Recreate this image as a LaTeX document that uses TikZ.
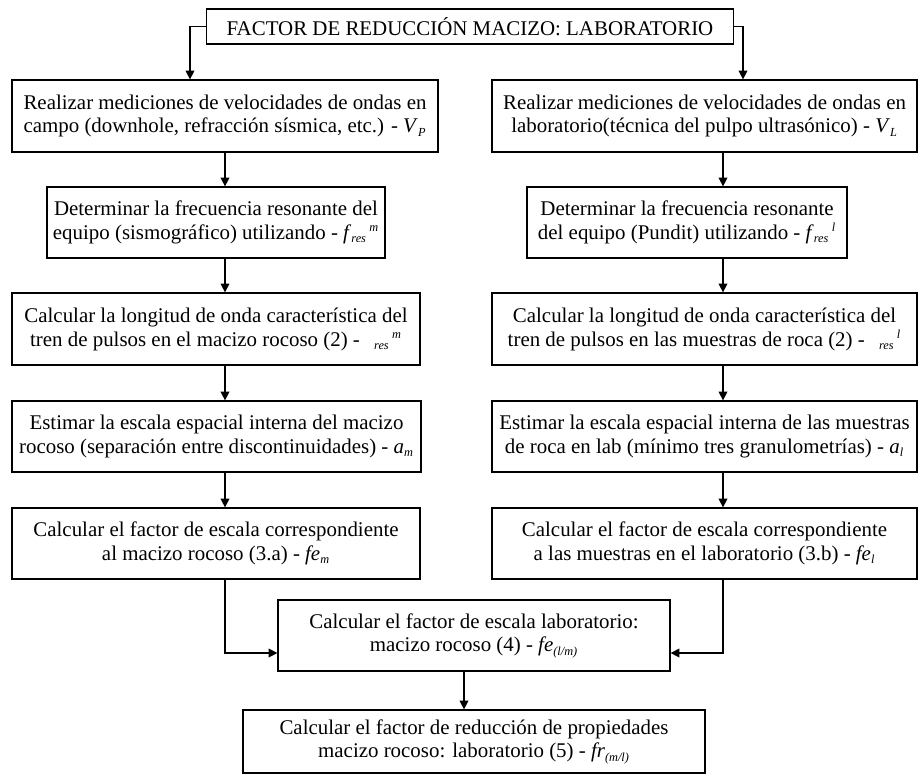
\documentclass[tikz,border=0pt]{standalone}
\usepackage{fontspec}
\setmainfont{Liberation Serif}
\usepackage{tikz}
\usetikzlibrary{arrows.meta, positioning, calc}
\newcommand{\vsub}[2]{\textit{#1}\textsubscript{\textit{\scriptsize #2}}}
\newcommand{\fres}[1]{\textit{f}\textsubscript{\textit{\scriptsize res}}\textsuperscript{\,\textit{\scriptsize #1}}}
\newcommand{\lres}[1]{\phantom{\textit{λ}}\textsubscript{\textit{\scriptsize res}}\textsuperscript{\,\textit{\scriptsize #1}}}

\begin{document}
\begin{tikzpicture}[
    x=0.02cm, y=-0.02cm,
    box/.style={draw, line width=0.7pt, align=center, inner sep=0pt,
                font=\fontsize{11.9}{13.6}\selectfont},
    arrow/.style={-{Triangle[length=5pt, width=5pt]}, line width=0.7pt},
  ]
    \useasboundingbox (0,0) rectangle (919,778);

    % Title
    \node[box, minimum width=527*0.02cm, minimum height=35*0.02cm] (title) at (470,26.5)
      {FACTOR DE REDUCCIÓN MACIZO: LABORATORIO};

    % Column: macizo rocoso (left)
    \node[box, minimum width=426*0.02cm, minimum height=72*0.02cm] (m1) at (225,116) {
      Realizar mediciones de velocidades de ondas en\\
      campo (downhole, refracción sísmica, etc.) - \vsub{V}{P}};
    \node[box, minimum width=338*0.02cm, minimum height=71*0.02cm] (m2) at (216,222.5) {
      Determinar la frecuencia resonante del\\
      equipo (sismográfico) utilizando - \fres{m}};
    \node[box, minimum width=408*0.02cm, minimum height=72*0.02cm] (m3) at (216,329) {
      Calcular la longitud de onda característica del\\
      tren de pulsos en el macizo rocoso (2) - \lres{m}};
    \node[box, minimum width=409*0.02cm, minimum height=71*0.02cm] (m4) at (216.5,436.5) {
      Estimar la escala espacial interna del macizo\\
      rocoso (separación entre discontinuidades) - \vsub{a}{m}};
    \node[box, minimum width=408*0.02cm, minimum height=71*0.02cm] (m5) at (216,543.5) {
      Calcular el factor de escala correspondiente\\
      al macizo rocoso (3.a) - \vsub{fe}{m}};

    % Column: laboratorio (right)
    \node[box, minimum width=425*0.02cm, minimum height=72*0.02cm] (l1) at (704.5,116) {
      Realizar mediciones de velocidades de ondas en\\
      laboratorio(técnica del pulpo ultrasónico) - \vsub{V}{L}};
    \node[box, minimum width=320*0.02cm, minimum height=71*0.02cm] (l2) at (687,222.5) {
      Determinar la frecuencia resonante\\
      del equipo (Pundit) utilizando - \fres{l}};
    \node[box, minimum width=425*0.02cm, minimum height=72*0.02cm] (l3) at (704.5,329) {
      Calcular la longitud de onda característica del\\
      tren de pulsos en las muestras de roca (2) - \lres{l}};
    \node[box, minimum width=425*0.02cm, minimum height=71*0.02cm] (l4) at (704.5,436.5) {
      Estimar la escala espacial interna de las muestras\\
      de roca en lab (mínimo tres granulometrías) - \vsub{a}{l}};
    \node[box, minimum width=425*0.02cm, minimum height=71*0.02cm] (l5) at (704.5,543.5) {
      Calcular el factor de escala correspondiente\\
      a las muestras en el laboratorio (3.b) - \vsub{fe}{l}};

    % Merge and result
    \node[box, minimum width=392*0.02cm, minimum height=71*0.02cm] (esc) at (474,635.5) {
      Calcular el factor de escala laboratorio:\\
      macizo rocoso (4) - \vsub{fe}{(l/m)}};
    \node[box, minimum width=462*0.02cm, minimum height=63*0.02cm] (red) at (474,741.5) {
      Calcular el factor de reducción de propiedades\\
      macizo rocoso: laboratorio (5) - \vsub{fr}{(m/l)}};

    % column axes
    \coordinate (lcol) at (225,0);
    \coordinate (rcol) at (723,0);

    % Arrows
    \draw[arrow] (title.west) -| ($(m1.north)+(-35,0)$);
    \draw[arrow] (title.east) -| ($(l1.north)+(38.5,0)$);
    \foreach \i/\j in {1/2, 2/3, 3/4, 4/5} {
      \draw[arrow] (m\i.south -| lcol) -- (lcol |- m\j.north);
      \draw[arrow] (l\i.south -| rcol) -- (rcol |- l\j.north);
    }
    \draw[arrow] (m5.south -| lcol) |- ($(esc.west)+(0,17.5)$);
    \draw[arrow] (l5.south -| rcol) |- ($(esc.east)+(0,17.5)$);
    \draw[arrow] ($(esc.south)+(-10,0)$) -- ($(red.north)+(-10,0)$);
\end{tikzpicture}
\end{document}
